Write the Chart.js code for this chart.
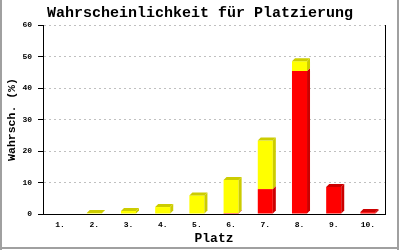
<!DOCTYPE html>
<html>
<head>
<meta charset="utf-8">
<script src="https://cdn.jsdelivr.net/npm/chart.js@4.4.0/dist/chart.umd.min.js"></script>
<style>
  body { margin: 0; background: #fff; }
  #wrap { width: 400px; height: 250px; }
</style>
</head>
<body>
<div id="wrap"><canvas id="barChart" width="400" height="250"></canvas></div>
<script>
var places = ['1.','2.','3.','4.','5.','6.','7.','8.','9.','10.'];
var redValues = [0, 0, 0, 0, 0, 0.3, 7.9, 45.4, 8.6, 0.6];
var yellowValues = [0, 0.3, 0.95, 2.2, 5.9, 10.5, 15.4, 3.1, 0, 0];
var yTicks = [0, 10, 20, 30, 40, 50, 60];

var FONT = '"Liberation Mono", "DejaVu Sans Mono", monospace';
var DEPTH = 3;

// fake 3d look: side + top face for every bar
var bar3d = {
	id: 'bar3d',
	afterDatasetsDraw: function(chart) {
		var ctx = chart.ctx;
		var n = chart.data.labels.length;
		for (var i = 0; i < n; i++) {
			var topDs = -1;
			chart.data.datasets.forEach(function(ds, d) {
				if (ds.data[i] > 0) topDs = d;
			});
			chart.data.datasets.forEach(function(ds, d) {
				if (!(ds.data[i] > 0)) return;
				var bar = chart.getDatasetMeta(d).data[i];
				var p = bar.getProps(['x', 'y', 'base', 'width']);
				var l = p.x - p.width / 2, r = p.x + p.width / 2;
				ctx.save();
				ctx.fillStyle = ds.sideColor;
				ctx.beginPath();
				ctx.moveTo(r, p.y);
				ctx.lineTo(r + DEPTH, p.y - DEPTH);
				ctx.lineTo(r + DEPTH, p.base - DEPTH);
				ctx.lineTo(r, p.base);
				ctx.closePath();
				ctx.fill();
				if (d === topDs) {
					ctx.beginPath();
					ctx.moveTo(l, p.y);
					ctx.lineTo(l + DEPTH, p.y - DEPTH);
					ctx.lineTo(r + DEPTH, p.y - DEPTH);
					ctx.lineTo(r, p.y);
					ctx.closePath();
					ctx.fill();
				}
				ctx.restore();
			});
		}
	},
	afterDraw: function(chart) {
		var ctx = chart.ctx, a = chart.chartArea;
		ctx.save();
		ctx.strokeStyle = '#000';
		ctx.lineWidth = 1;
		ctx.beginPath();
		ctx.moveTo(Math.round(a.right) + 0.5, a.top);
		ctx.lineTo(Math.round(a.right) + 0.5, a.bottom);
		ctx.stroke();
		// grey frame (left, right, bottom)
		ctx.fillStyle = '#a0a0a0';
		ctx.fillRect(0, 0, 2, 250);
		ctx.fillRect(397, 0, 2, 250);
		ctx.fillRect(0, 247, 399, 2);
		ctx.restore();
	}
};

var ctx = document.getElementById('barChart');
var barChart = new Chart(ctx, {
	type: 'bar',
	data: {
		labels: places,
		datasets: [{
			label: 'rot',
			data: redValues,
			backgroundColor: '#ff0000',
			sideColor: '#cc0000',
			borderWidth: 0
		}, {
			label: 'gelb',
			data: yellowValues,
			backgroundColor: '#ffff00',
			sideColor: '#cccc00',
			borderWidth: 0
		}]
	},
	options: {
		responsive: false,
		animation: false,
		layout: { padding: 0 },
		datasets: { bar: { categoryPercentage: 1, barPercentage: 0.44 } },
		plugins: {
			legend: { display: false },
			tooltip: { enabled: false },
			title: {
				display: true,
				text: 'Wahrscheinlichkeit für Platzierung',
				color: '#000',
				font: { family: FONT, size: 15, weight: 'bold' },
				padding: { top: 4, bottom: 3 }
			}
		},
		scales: {
			x: {
				stacked: true,
				grid: { display: false, drawTicks: false },
				border: { display: true, color: '#000', width: 1 },
				ticks: { color: '#000', font: { family: FONT, size: 8, weight: 'bold' }, padding: 6, maxRotation: 0 },
				title: {
					display: true, text: 'Platz', color: '#000',
					font: { family: FONT, size: 13, weight: 'bold' },
					padding: { top: 0, bottom: 3 }
				},
				afterFit: function(scale) { scale.height = 36; }
			},
			y: {
				stacked: true,
				min: 0,
				max: 60,
				afterBuildTicks: function(scale) {
					scale.ticks = yTicks.map(function(v) { return { value: v }; });
				},
				grid: {
					color: '#c0c0c0',
					tickColor: '#000',
					tickBorderDash: [],
					tickLength: 5
				},
				border: { display: true, color: '#000', width: 1, dash: [2, 3] },
				ticks: { color: '#000', font: { family: FONT, size: 8, weight: 'bold' }, padding: 6 },
				title: {
					display: true, text: 'Wahrsch. (%)', color: '#000',
					font: { family: FONT, size: 11.5, weight: 'bold' },
					padding: { top: 5, bottom: 0 }
				},
				afterFit: function(scale) { scale.width = 43; }
			},
			// empty right strip so the title stays centred on the page
			yRight: {
				position: 'right',
				type: 'linear',
				display: true,
				grid: { display: false, drawTicks: false },
				border: { display: false },
				ticks: { display: false },
				afterFit: function(scale) { scale.width = 15; }
			}
		}
	},
	plugins: [bar3d]
});
</script>
</body>
</html>
